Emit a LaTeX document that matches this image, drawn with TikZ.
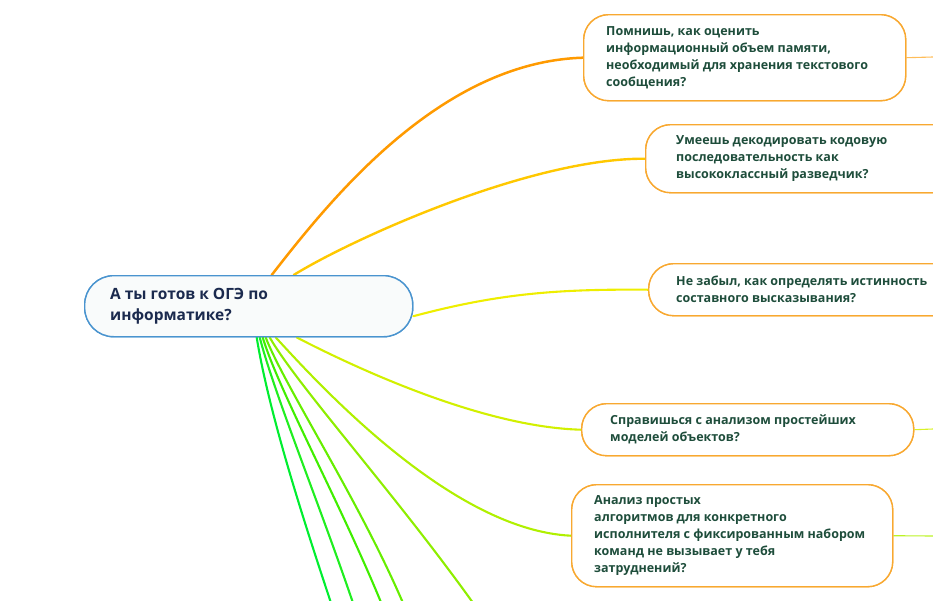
\documentclass[tikz,border=0pt]{standalone}
\usepackage{fontspec}
\setmainfont{Open Sans}
\definecolor{qgreen}{HTML}{1E4D3B}
\definecolor{rootblue}{HTML}{4A94CF}
\definecolor{rootfill}{HTML}{F9FBFB}
\definecolor{roottext}{HTML}{1B2A4E}
\definecolor{oborder}{HTML}{F8A830}
\definecolor{cA}{HTML}{FF9A00}
\definecolor{cB}{HTML}{FFC800}
\definecolor{cC}{HTML}{EEEE00}
\definecolor{cD}{HTML}{D2F000}
\definecolor{cE}{HTML}{B0F000}
\definecolor{gA}{HTML}{00EE30}
\definecolor{gB}{HTML}{20EE20}
\definecolor{gC}{HTML}{40EE00}
\definecolor{gD}{HTML}{66EE00}
\definecolor{gE}{HTML}{8EEE00}
\tikzset{
  rootbox/.style={draw=rootblue, line width=1.4pt, fill=rootfill, rounded corners=29pt, inner sep=0pt},
  obox/.style={draw=oborder, line width=1.4pt, fill=white, rounded corners=25pt, inner sep=0pt},
  qtext/.style={inner sep=0pt, align=left, text=qgreen, font=\bfseries\fontsize{12.5}{17}\selectfont},
  roottxt/.style={inner sep=0pt, align=left, text=roottext, font=\bfseries\fontsize{15.5}{21}\selectfont},
  conn/.style={line width=2.1pt, line cap=round},
  stub/.style={line width=1.1pt}
}
\begin{document}
\begin{tikzpicture}[x=1pt,y=-1pt]
\useasboundingbox (0,0) rectangle (933,600);
\clip (0,0) rectangle (933,600);
% box positions
\node[rootbox, minimum width=328pt, minimum height=61pt, anchor=north west] (root) at (84,275) {};
\node[obox, minimum width=322pt, minimum height=86pt, anchor=north west] (b1) at (583,14) {};
\node[obox, minimum width=330pt, minimum height=68pt, anchor=north west] (b2) at (645,124) {};
\node[obox, minimum width=330pt, minimum height=52pt, anchor=north west] (b3) at (648,263) {};
\node[obox, minimum width=332pt, minimum height=52pt, anchor=north west] (b4) at (581,403) {};
\node[obox, minimum width=321pt, minimum height=102pt, anchor=north west] (b5) at (571,484) {};
% off-canvas ends
\coordinate (e1) at (340,630);
\coordinate (e2) at (362,630);
\coordinate (e3) at (392,630);
\coordinate (e4) at (414,630);
\coordinate (e5) at (492,630);
\coordinate (s1) at (933,57);
\coordinate (s4) at (933,429);
\coordinate (s5) at (933,536);
% connectors
\draw[conn, cA, line width=2.5pt] ([xshift=23pt]root.north) .. controls (330,200) and (440,62) .. (b1.west);
\draw[conn, cB, line width=2.4pt] ([xshift=45pt]root.north) .. controls (350,240) and (530,158) .. (b2.west);
\draw[conn, cC] ([yshift=-10pt]root.east) .. controls (500,293) and (560,289) .. (b3.west);
\draw[conn, cD] ([xshift=48pt]root.south) .. controls (350,365) and (480,427) .. (b4.west);
\draw[conn, cE] ([xshift=27pt]root.south) .. controls (315,380) and (450,530) .. (b5.west);
\draw[conn, gA] ([xshift=8pt]root.south) .. controls (270,420) and (310,540) .. (e1);
\draw[conn, gB] ([xshift=11pt]root.south) .. controls (276,400) and (328,525) .. (e2);
\draw[conn, gC] ([xshift=14pt]root.south) .. controls (280,395) and (350,520) .. (e3);
\draw[conn, gD] ([xshift=17pt]root.south) .. controls (286,390) and (372,520) .. (e4);
\draw[conn, gE] ([xshift=21pt]root.south) .. controls (300,390) and (410,510) .. (e5);
\draw[stub, cA!65] (b1.east) -- (s1);
\draw[stub, cD!85] (b4.east) -- (s4);
\draw[stub, cE!85] (b5.east) -- (s5);
% boxes drawn over the connector ends
\node[rootbox, minimum width=328pt, minimum height=61pt, anchor=north west] (rootf) at (84,275) {};
\node[obox, minimum width=322pt, minimum height=86pt, anchor=north west] (b1f) at (583,14) {};
\node[obox, minimum width=330pt, minimum height=68pt, anchor=north west] (b2f) at (645,124) {};
\node[obox, minimum width=330pt, minimum height=52pt, anchor=north west] (b3f) at (648,263) {};
\node[obox, minimum width=332pt, minimum height=52pt, anchor=north west] (b4f) at (581,403) {};
\node[obox, minimum width=321pt, minimum height=102pt, anchor=north west] (b5f) at (571,484) {};
% texts
\node[roottxt, anchor=west] (t0) at ([xshift=26pt]root.west) {А ты готов к ОГЭ по\\информатике?};
\node[qtext, anchor=west] (t1) at ([xshift=23pt]b1.west) {Помнишь, как оценить\\информационный объем памяти,\\необходимый для хранения текстового\\сообщения?};
\node[qtext, anchor=west] (t2) at ([xshift=31pt]b2.west) {Умеешь декодировать кодовую\\последовательность как\\высококлассный разведчик?};
\node[qtext, anchor=west] (t3) at ([xshift=28pt]b3.west) {Не забыл, как определять истинность\\составного высказывания?};
\node[qtext, anchor=west] (t4) at ([xshift=29pt]b4.west) {Справишься с анализом простейших\\моделей объектов?};
\node[qtext, anchor=west] (t5) at ([xshift=23pt]b5.west) {Анализ простых\\алгоритмов для конкретного\\исполнителя с фиксированным набором\\команд не вызывает у тебя\\затруднений?};
\end{tikzpicture}
\end{document}
